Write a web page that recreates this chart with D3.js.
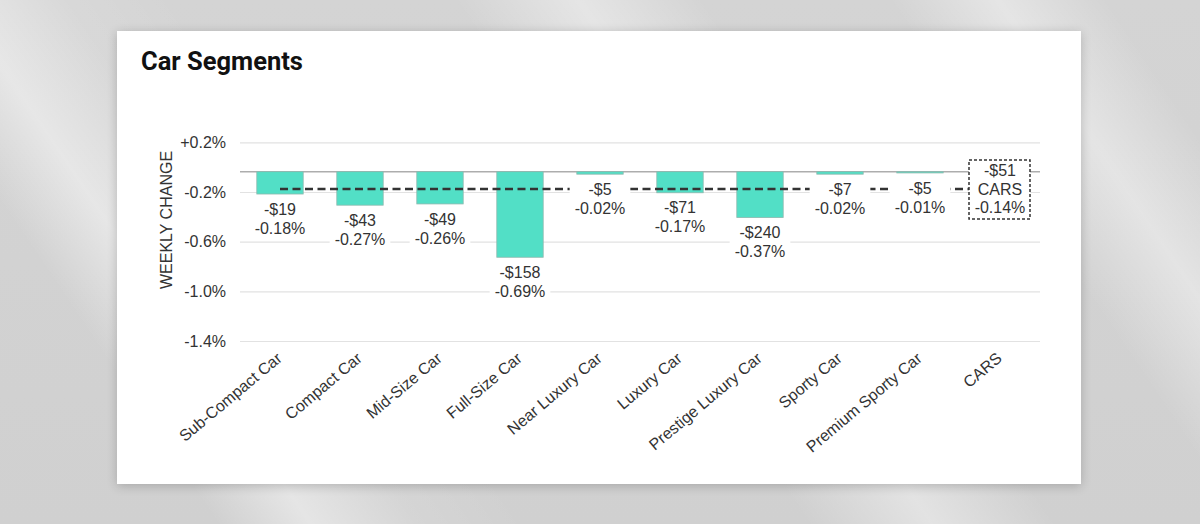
<!DOCTYPE html>
<html>
<head>
<meta charset="utf-8">
<script src="https://cdn.jsdelivr.net/npm/d3@7"></script>
<style>
  html, body { margin:0; padding:0; }
  body {
    width:1200px; height:524px; overflow:hidden;
    background:
      linear-gradient(56deg, rgba(255,255,255,0) 0%, rgba(255,255,255,0) 14%, rgba(255,255,255,0.45) 20%, rgba(255,255,255,0.1) 27%, rgba(255,255,255,0) 34%, rgba(255,255,255,0) 52%, rgba(255,255,255,0.4) 60%, rgba(255,255,255,0) 68%, rgba(255,255,255,0) 80%, rgba(255,255,255,0.4) 87%, rgba(255,255,255,0) 94%),
      linear-gradient(180deg, #d4d4d4 0%, #d0d0d0 100%);
  }
  #card {
    position:absolute; left:117px; top:31px; width:964px; height:453px;
    background:#fff; box-shadow: 0 2px 10px rgba(0,0,0,0.2);
  }
  svg { position:absolute; left:0; top:0; }
</style>
</head>
<body>
<div id="card"></div>
<svg id="chart" width="1200" height="524"></svg>
<script>
// ---- data ----
const categories = ["Sub-Compact Car","Compact Car","Mid-Size Car","Full-Size Car","Near Luxury Car","Luxury Car","Prestige Luxury Car","Sporty Car","Premium Sporty Car","CARS"];
const pctChange = [-0.18,-0.27,-0.26,-0.69,-0.02,-0.17,-0.37,-0.02,-0.01,null];
const dollarChange = [-19,-43,-49,-158,-5,-71,-240,-7,-5,-51];
const averagePct = -0.14;
const averageDollar = -51;
const tickValues = [0.2,-0.2,-0.6,-1.0,-1.4];
const tickLabels = ["+0.2%","-0.2%","-0.6%","-1.0%","-1.4%"];

const svg = d3.select("#chart");
const font = "'Liberation Sans', Arial, sans-serif";
const fmtPct = v => (v<0?"-":"") + Math.abs(v).toFixed(2) + "%";
const fmtUsd = v => (v<0?"-":"") + "$" + Math.abs(v);

// title
svg.append("text").attr("x",141).attr("y",70)
  .attr("font-family","Roboto, sans-serif").attr("font-weight",700)
  .attr("font-size",25.5).attr("fill","#111").text("Car Segments");

// scales
const x = d3.scaleBand().domain(categories).range([240,1040]).paddingInner(0.42).paddingOuter(0.21);
const y = d3.scaleLinear().domain([0,-1]).range([171.7,295.7]);           // bar scale
const yGrid = d3.scaleLinear().domain([0.2,-1.4]).range([142.3,341]);    // gridline / tick scale

// gridlines + tick labels
const yAxis = d3.axisLeft(yGrid).tickValues(tickValues)
  .tickSize(-800).tickPadding(14).tickFormat((d,i)=>tickLabels[i]);
const gy = svg.append("g").attr("transform","translate(240,0)").call(yAxis);
gy.select(".domain").remove();
gy.selectAll(".tick line").attr("stroke","#e2e2e2").attr("stroke-width",1.2);
gy.selectAll(".tick text").attr("font-family",font).attr("font-size",16).attr("fill","#333").attr("x",-14);

// axis title
svg.append("text").attr("transform","translate(172,220) rotate(-90)")
  .attr("text-anchor","middle").attr("font-family",font).attr("font-size",16)
  .attr("fill","#333").text("WEEKLY CHANGE");

// zero line
svg.append("line").attr("x1",240).attr("x2",1040).attr("y1",y(0)).attr("y2",y(0))
  .attr("stroke","#adadad").attr("stroke-width",1.5);

// bars
const barData = categories.map((c,i)=>({c, p:pctChange[i], d:dollarChange[i]})).filter(d=>d.p!==null);
svg.append("g").selectAll("rect").data(barData).join("rect")
  .attr("x",d=>x(d.c)).attr("width",x.bandwidth())
  .attr("y",y(0)).attr("height",d=>Math.max(1,y(d.p)-y(0)))
  .attr("fill","#52dfc6").attr("stroke","#8fb8ae").attr("stroke-width",0.8);

// average dashed line
const avgX1 = x(categories[0]) + x.bandwidth()/2;
const avgX2 = x("CARS") + x.bandwidth()/2 - 31;
svg.append("line").attr("x1",avgX1).attr("x2",avgX2).attr("y1",y(averagePct)).attr("y2",y(averagePct))
  .attr("stroke","#333").attr("stroke-width",2.4).attr("stroke-dasharray","8,4.5");

// labels with white backgrounds
const lg = svg.append("g");
barData.forEach(d=>{
  const cx = x(d.c)+x.bandwidth()/2;
  const top = y(d.p);
  const g = lg.append("g");
  const bg = g.append("rect").attr("fill","#fff");
  const t1 = g.append("text").attr("x",cx).attr("y",top+15).attr("dy","0.35em")
    .attr("text-anchor","middle").attr("font-family",font).attr("font-size",16).attr("fill","#333")
    .text(fmtUsd(d.d));
  const t2 = g.append("text").attr("x",cx).attr("y",top+34).attr("dy","0.35em")
    .attr("text-anchor","middle").attr("font-family",font).attr("font-size",16).attr("fill","#333")
    .text(fmtPct(d.p));
  const w = Math.max(t1.node().getComputedTextLength(), t2.node().getComputedTextLength()) + 10;
  bg.attr("x",cx-w/2).attr("width",w).attr("y",top+6).attr("height",38);
});

// CARS summary box
const cc = x("CARS")+x.bandwidth()/2;
const ay = y(averagePct);
svg.append("rect").attr("x",cc-31).attr("y",ay-29).attr("width",61).attr("height",59)
  .attr("fill","#fff").attr("stroke","#333").attr("stroke-width",1.5).attr("stroke-dasharray","3,2");
[[fmtUsd(averageDollar),-18.5],["CARS",0],[fmtPct(averagePct),18.5]].forEach(([s,o])=>{
  svg.append("text").attr("x",cc).attr("y",ay+o).attr("dy","0.35em").attr("text-anchor","middle")
    .attr("font-family",font).attr("font-size",16).attr("fill","#333").text(s);
});

// x category labels
svg.append("g").selectAll("text").data(categories).join("text")
  .attr("transform",d=>`translate(${x(d)+x.bandwidth()/2+3},${360}) rotate(-40)`)
  .attr("text-anchor","end").attr("font-family",font).attr("font-size",16).attr("fill","#333")
  .text(d=>d);
</script>
</body>
</html>
